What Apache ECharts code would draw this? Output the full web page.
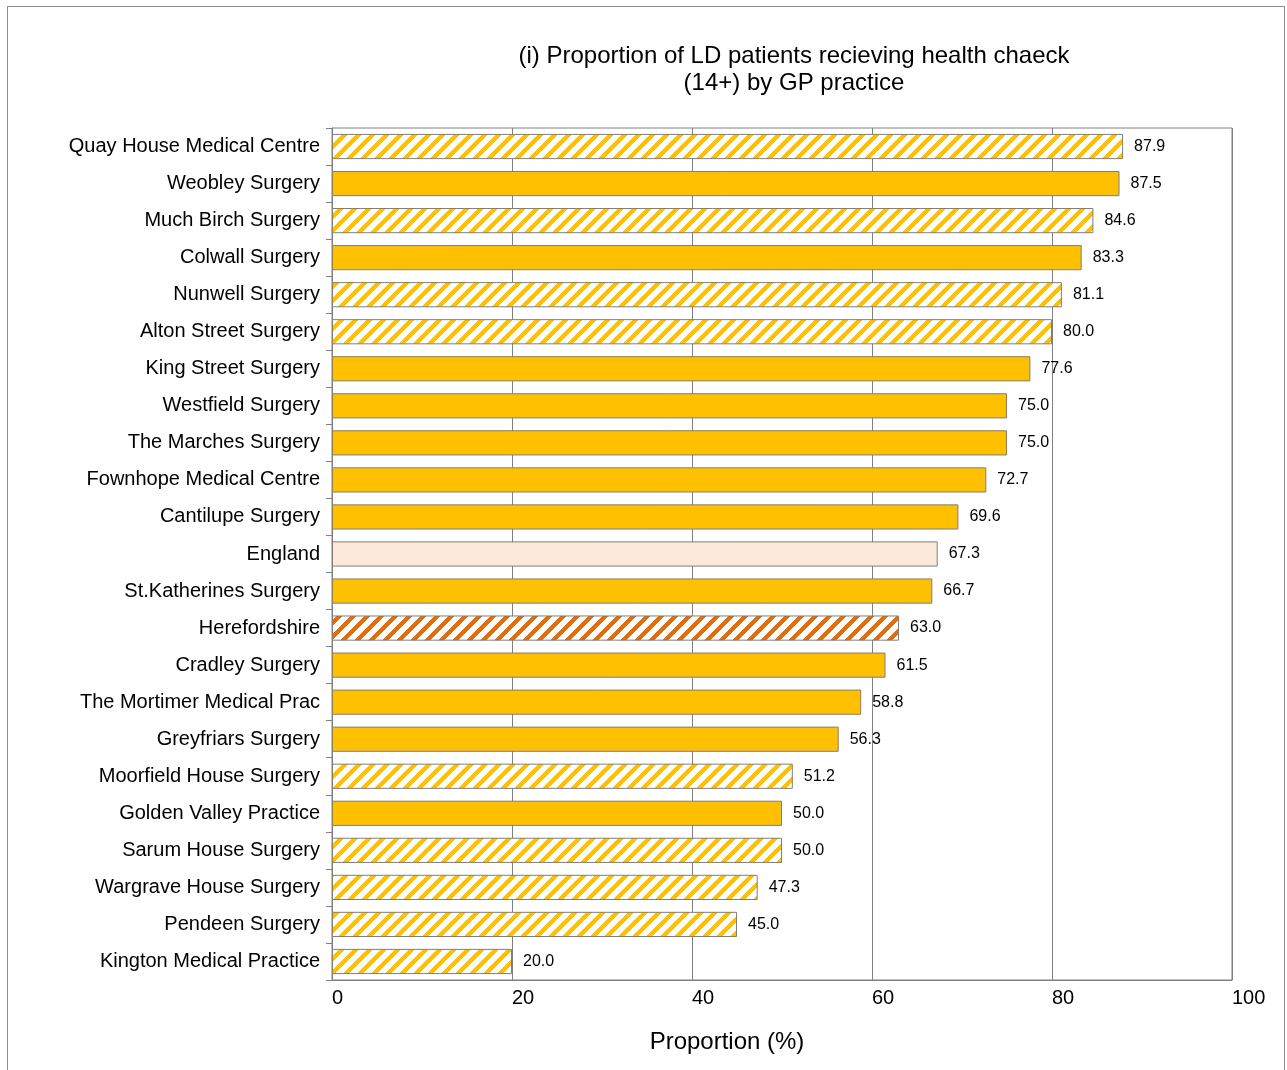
<!DOCTYPE html>
<html>
<head>
<meta charset="utf-8">
<script src="https://cdn.jsdelivr.net/npm/echarts@6/dist/echarts.min.js"></script>
<style>
html,body{margin:0;padding:0;background:#fff;}
#frame{position:absolute;left:7px;top:6px;width:1278px;height:1090px;border:1px solid #8c8c8c;box-sizing:border-box;}
#chart{position:absolute;left:0;top:0;width:1287px;height:1070px;}
</style>
</head>
<body>
<div id="frame"></div>
<div id="chart"></div>
<script>
// ---- data ----
const categories = [
  "Quay House Medical Centre","Weobley Surgery","Much Birch Surgery","Colwall Surgery",
  "Nunwell Surgery","Alton Street Surgery","King Street Surgery","Westfield Surgery",
  "The Marches Surgery","Fownhope Medical Centre","Cantilupe Surgery","England",
  "St.Katherines Surgery","Herefordshire","Cradley Surgery","The Mortimer Medical Prac",
  "Greyfriars Surgery","Moorfield House Surgery","Golden Valley Practice","Sarum House Surgery",
  "Wargrave House Surgery","Pendeen Surgery","Kington Medical Practice"
];
const values = [87.9,87.5,84.6,83.3,81.1,80.0,77.6,75.0,75.0,72.7,69.6,67.3,66.7,63.0,61.5,58.8,56.3,51.2,50.0,50.0,47.3,45.0,20.0];
// group of each row: practice (solid), practiceHatched, england, county
const groups = ["practiceHatched","practice","practiceHatched","practice","practiceHatched","practiceHatched",
  "practice","practice","practice","practice","practice","england","practice","county","practice",
  "practice","practice","practiceHatched","practice","practiceHatched","practiceHatched","practiceHatched","practiceHatched"];
const xTicks = [0,20,40,60,80,100];
const titleLines = ["(i) Proportion of LD patients recieving health chaeck","(14+) by GP practice"];
const xAxisName = "Proportion (%)";

// ---- styles ----
function hatch(color){
  const p = 14, w = 6;
  const c = document.createElement('canvas');
  c.width = p; c.height = p;
  const ctx = c.getContext('2d');
  const img = ctx.createImageData(p,p);
  const r = parseInt(color.slice(1,3),16), g = parseInt(color.slice(3,5),16), b = parseInt(color.slice(5,7),16);
  for(let y=0;y<p;y++){for(let x=0;x<p;x++){
    const i=(y*p+x)*4; const on=((x+y)%p)<w;
    img.data[i]=on?r:255; img.data[i+1]=on?g:255; img.data[i+2]=on?b:255; img.data[i+3]=255;
  }}
  ctx.putImageData(img,0,0);
  return c;
}
const yellow = '#FFC000';
const styleMap = {
  practice: yellow,
  practiceHatched: {image: hatch(yellow), repeat: 'repeat'},
  england: '#FDE9D9',
  county: {image: hatch('#E46C0A'), repeat: 'repeat'}
};
const FONT = '"Liberation Sans", Arial, sans-serif';

const chart = echarts.init(document.getElementById('chart'), null, {renderer:'canvas'});
chart.setOption({
  animation:false,
  backgroundColor:'transparent',
  title:{
    text: titleLines.join('\n'),
    left: 794, top: 43, textAlign:'center', padding:0,
    textStyle:{fontFamily:FONT,fontSize:24,fontWeight:'normal',color:'#000',lineHeight:27}
  },
  grid:{left:332,right:55,top:128,bottom:90,show:true,borderColor:'#808080',borderWidth:1,containLabel:false},
  xAxis:{
    type:'value',min:xTicks[0],max:xTicks[xTicks.length-1],interval:20,
    name:xAxisName,nameLocation:'middle',nameGap:50,
    nameTextStyle:{fontFamily:FONT,fontSize:24,color:'#000',padding:[0,110,0,0]},
    axisLine:{show:true,lineStyle:{color:'#808080',width:1}},
    axisTick:{show:false},
    axisLabel:{fontFamily:FONT,fontSize:20,color:'#000',align:'left',margin:8},
    splitLine:{show:true,lineStyle:{color:'#808080',width:1}}
  },
  yAxis:{
    type:'category',data:categories,inverse:true,
    axisLine:{show:true,lineStyle:{color:'#808080',width:1}},
    axisTick:{show:true,length:6,lineStyle:{color:'#808080'}},
    axisLabel:{fontFamily:FONT,fontSize:20,color:'#000',margin:12,padding:[3,0,0,0]},
    splitLine:{show:false}
  },
  series:[{
    type:'bar',
    barCategoryGap:'32%',
    data: values.map((v,i)=>({value:v,itemStyle:{color:styleMap[groups[i]]}})),
    itemStyle:{borderColor:'#7f7f7f',borderWidth:1},
    label:{show:true,position:'right',distance:11,fontFamily:FONT,fontSize:16,color:'#000',
      formatter:p=>p.value.toFixed(1)}
  }]
});
</script>
</body>
</html>
